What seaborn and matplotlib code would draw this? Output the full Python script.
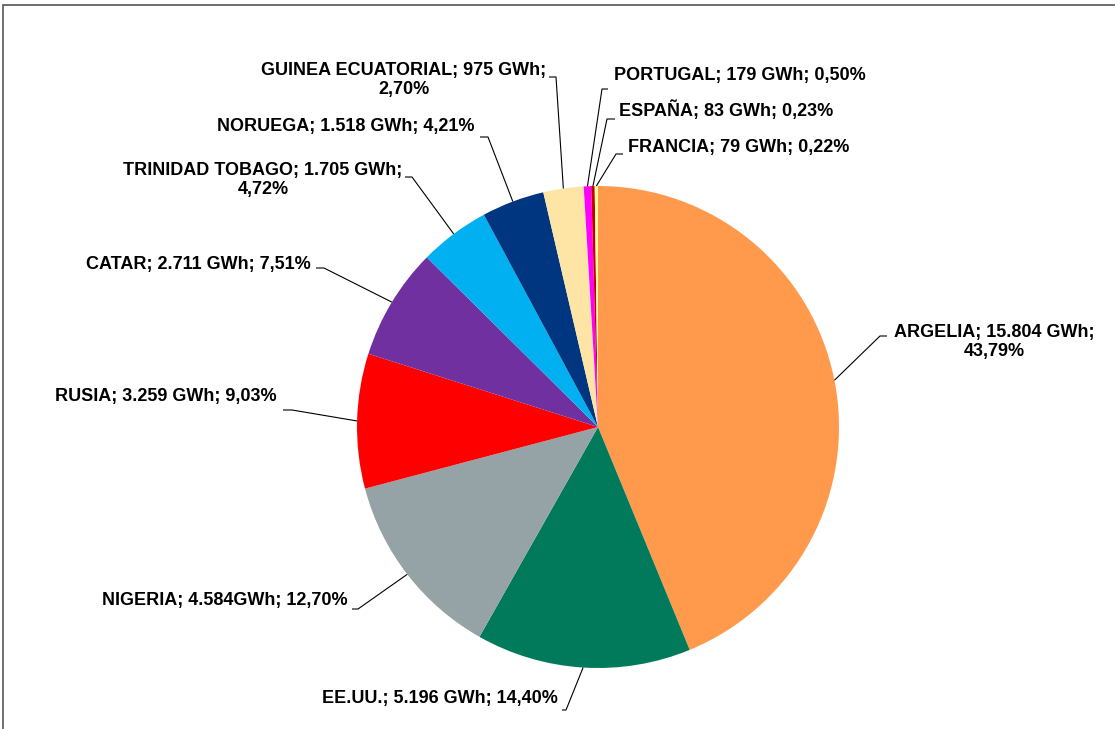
import numpy as np
import seaborn as sns
import matplotlib
matplotlib.use("Agg")
import matplotlib.pyplot as plt
from matplotlib.patches import Rectangle

countries = ["ARGELIA", "EE.UU.", "NIGERIA", "RUSIA", "CATAR", "TRINIDAD TOBAGO",
             "NORUEGA", "GUINEA ECUATORIAL", "PORTUGAL", "ESPAÑA", "FRANCIA"]
gwh = [15804, 5196, 4584, 3259, 2711, 1705, 1518, 975, 179, 83, 79]
gwh_text = ["15.804 GWh", "5.196 GWh", "4.584GWh", "3.259 GWh", "2.711 GWh", "1.705 GWh",
            "1.518 GWh", "975 GWh", "179 GWh", "83 GWh", "79 GWh"]
pct_text = ["43,79%", "14,40%", "12,70%", "9,03%", "7,51%", "4,72%",
            "4,21%", "2,70%", "0,50%", "0,23%", "0,22%"]
colors = ["#FF9A4D", "#007A5A", "#95A3A6", "#FF0000", "#7030A0", "#00B0F0",
          "#003580", "#FFE5A5", "#FF00FF", "#C00000", "#FFFF99"]
# labels broken onto two lines in the original
two_line = {"ARGELIA", "TRINIDAD TOBAGO", "GUINEA ECUATORIAL"}

# label layout in pixel coords (x, y of text centre, stub start x, stub end x, stub y)
label_pos = {
    "ARGELIA": (994, 342, 887, 880, 336),
    "EE.UU.": (440, 698, 562, 566, 710),
    "NIGERIA": (225, 600, 352, 358, 609),
    "RUSIA": (166, 396, 283, 292, 410),
    "CATAR": (198, 264, 316, 324, 268),
    "TRINIDAD TOBAGO": (263, 180, 405, 412, 177),
    "NORUEGA": (346, 126, 480, 488, 137),
    "GUINEA ECUATORIAL": (404, 80, 549, 556, 77),
    "PORTUGAL": (740, 75, 608, 602, 89),
    "ESPAÑA": (726, 110, 615, 607, 119),
    "FRANCIA": (739, 147, 623, 616, 154),
}

W, H = 1115, 729
cx, cy, r = 598, 427, 241

sns.set_theme(style="white")
plt.rcParams["font.family"] = ["Liberation Sans", "DejaVu Sans"]

fig = plt.figure(figsize=(W / 100, H / 100), dpi=100)
ax = fig.add_axes([0, 0, 1, 1])


def fy(y):
    return H - y


wedges, _ = ax.pie(gwh, colors=colors, startangle=90, counterclock=False,
                   center=(cx, fy(cy)), radius=r, wedgeprops=dict(linewidth=0),
                   frame=True)
ax.set_xlim(0, W)
ax.set_ylim(0, H)
ax.set_aspect("equal")
ax.axis("off")

for w, name, g, p in zip(wedges, countries, gwh_text, pct_text):
    mid = np.deg2rad((w.theta1 + w.theta2) / 2)
    ex = cx + r * np.cos(mid)
    ey = fy(cy) + r * np.sin(mid)
    tx, ty, sx0, sx1, sy = label_pos[name]
    if name in two_line:
        txt = f"{name}; {g};\n{p}"
    else:
        txt = f"{name}; {g}; {p}"
    ax.text(tx, fy(ty), txt, ha="center", va="center", fontsize=13,
            fontweight="bold", color="black", linespacing=1.15)
    ax.plot([sx0, sx1, ex], [fy(sy), fy(sy), ey], color="black", lw=0.8,
            solid_capstyle="butt")

# chart border, cut off at the right and bottom like the original
fig.patches.append(Rectangle((3 / W, -0.2), 1.2, 1.2 - 5 / H, transform=fig.transFigure,
                             fill=False, edgecolor="#555555", lw=1.2))

plt.savefig("out.png", dpi=100)
